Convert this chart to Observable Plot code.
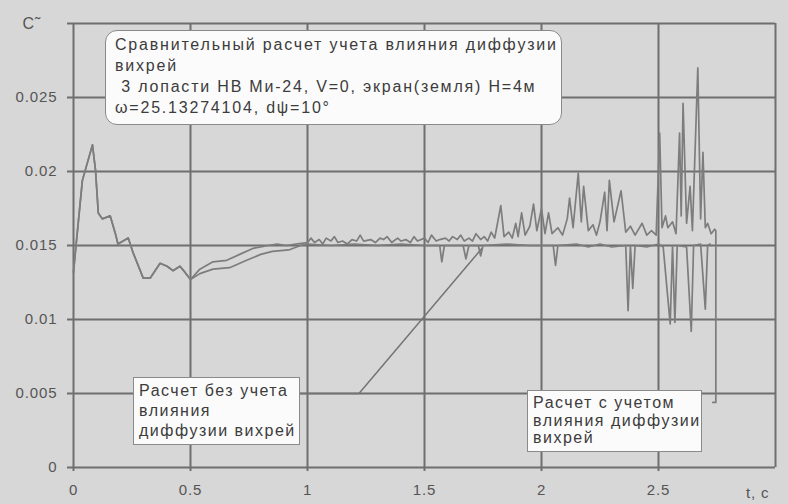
<!DOCTYPE html>
<html><head><meta charset="utf-8">
<script src="https://cdn.jsdelivr.net/npm/d3@7"></script>
<script src="https://cdn.jsdelivr.net/npm/@observablehq/plot@0.6"></script>
<style>
body{margin:0;background:#d7d7d7;}
#wrap{position:relative;width:788px;height:504px;background:#d7d7d7;overflow:hidden;font-family:"Liberation Sans",Arial,sans-serif;}
#chart svg text{letter-spacing:0.9px;}
.box{position:absolute;background:#fbfbfb;border:1px solid #8a8a8a;color:#3c3c3c;font-size:16px;letter-spacing:1.5px;white-space:pre;box-sizing:border-box;}
#titleBox{letter-spacing:1.8px;}
</style></head><body>
<div id="wrap"><div id="chart"></div></div>
<script>
// ---- data ----
const xTicks = [0, 0.5, 1, 1.5, 2, 2.5];
const yTicks = [0, 0.005, 0.01, 0.015, 0.02, 0.025, 0.03];
const yLabel = "C˜";
const xLabel = "t, c";

const titleLines = ["Сравнительный расчет учета влияния диффузии", "вихрей", " 3 лопасти НВ Ми-24, V=0, экран(земля) H=4м", "ω=25.13274104, dψ=10°"];
const noteWithout = ["Расчет без учета", "влияния", "диффузии вихрей"];
const noteWith = ["Расчет с учетом", "влияния диффузии", "вихрей"];

// shared start of both runs
const tStart = [0, 0.009, 0.038, 0.081, 0.094, 0.106, 0.123, 0.157, 0.179, 0.19, 0.234, 0.255, 0.298, 0.328, 0.37, 0.40, 0.425, 0.455, 0.476, 0.5];
const cStart = [0.0132, 0.0147, 0.0194, 0.0218, 0.0201, 0.0172, 0.0168, 0.0170, 0.0158, 0.0151, 0.0155, 0.0145, 0.0128, 0.0128, 0.0138, 0.0136, 0.0133, 0.0136, 0.0132, 0.0127];

// run with vortex diffusion (noisy)
const tWith = [0.54, 0.596, 0.655, 0.71, 0.766, 0.80, 0.83, 0.87, 0.91, 0.95, 1.0, 1.015, 1.03, 1.05, 1.065, 1.08, 1.10, 1.115, 1.13, 1.15, 1.17, 1.19, 1.21, 1.225, 1.24, 1.27, 1.29, 1.31, 1.325, 1.34, 1.36, 1.385, 1.40, 1.42, 1.44, 1.455, 1.47, 1.50, 1.515, 1.53, 1.55, 1.565, 1.59, 1.605, 1.62, 1.64, 1.655, 1.67, 1.69, 1.705, 1.72, 1.74, 1.755, 1.77, 1.785, 1.80, 1.826, 1.84, 1.86, 1.875, 1.89, 1.90, 1.915, 1.93, 1.95, 1.966, 1.98, 2.0, 2.015, 2.03, 2.045, 2.07, 2.09, 2.11, 2.12, 2.135, 2.157, 2.17, 2.18, 2.20, 2.22, 2.235, 2.25, 2.27, 2.28, 2.29, 2.31, 2.34, 2.36, 2.38, 2.40, 2.43, 2.45, 2.47, 2.49, 2.505, 2.515, 2.53, 2.54, 2.56, 2.575, 2.59, 2.597, 2.605, 2.62, 2.635, 2.645, 2.668, 2.68, 2.69, 2.70, 2.71, 2.725, 2.74, 2.745, 2.745, 2.732];
const cWith = [0.0134, 0.0139, 0.0140, 0.0144, 0.0148, 0.0149, 0.0150, 0.0151, 0.0150, 0.0151, 0.0152, 0.0155, 0.0152, 0.0154, 0.0151, 0.0155, 0.0153, 0.0156, 0.0152, 0.0153, 0.0151, 0.0154, 0.0153, 0.0157, 0.0153, 0.0154, 0.0152, 0.0155, 0.0154, 0.0156, 0.0152, 0.0155, 0.0153, 0.0154, 0.0152, 0.0156, 0.0153, 0.0155, 0.0152, 0.0157, 0.0153, 0.0154, 0.0155, 0.0153, 0.0156, 0.0154, 0.0157, 0.0153, 0.0155, 0.0153, 0.0158, 0.0154, 0.0156, 0.0153, 0.0159, 0.0155, 0.0177, 0.0156, 0.0159, 0.0155, 0.0165, 0.0156, 0.0172, 0.0157, 0.0163, 0.0178, 0.0160, 0.0175, 0.0158, 0.0172, 0.0158, 0.0162, 0.0157, 0.0168, 0.0182, 0.0162, 0.0199, 0.0166, 0.0190, 0.0160, 0.0164, 0.0157, 0.0166, 0.0186, 0.0160, 0.0194, 0.0166, 0.0187, 0.0159, 0.0163, 0.0157, 0.0165, 0.0157, 0.0160, 0.0157, 0.0226, 0.0162, 0.0170, 0.0162, 0.0166, 0.0158, 0.0226, 0.0170, 0.0246, 0.0165, 0.0190, 0.0160, 0.0270, 0.0168, 0.0213, 0.0162, 0.0165, 0.0158, 0.0161, 0.0160, 0.0044, 0.0044];

// run without vortex diffusion (smooth, with downward spikes)
const tWithout = [0.54, 0.596, 0.667, 0.74, 0.80, 0.85, 0.92, 0.97, 1.0, 1.1, 1.2, 1.3, 1.4, 1.5, 1.565, 1.574, 1.585, 1.665, 1.677, 1.69, 1.73, 1.74, 1.75, 1.85, 1.95, 2.05, 2.06, 2.07, 2.15, 2.2, 2.25, 2.3, 2.36, 2.37, 2.38, 2.39, 2.40, 2.45, 2.5, 2.52, 2.55, 2.56, 2.57, 2.58, 2.62, 2.64, 2.65, 2.68, 2.70, 2.71, 2.72];
const cWithout = [0.0131, 0.0134, 0.0135, 0.0140, 0.0144, 0.0146, 0.0147, 0.0150, 0.0151, 0.0150, 0.0151, 0.0150, 0.0151, 0.0150, 0.0150, 0.0139, 0.0150, 0.0150, 0.0141, 0.0150, 0.0150, 0.0143, 0.0150, 0.0151, 0.0150, 0.0150, 0.01365, 0.0150, 0.0151, 0.0149, 0.0151, 0.0149, 0.0150, 0.0106, 0.0150, 0.0121, 0.0150, 0.0149, 0.0151, 0.0149, 0.0097, 0.0150, 0.0098, 0.0150, 0.0149, 0.0092, 0.0150, 0.0151, 0.0107, 0.0150, 0.0151];

// leader from the "без учета" note
const tLeader = [0.966, 1.22, 1.745];
const cLeader = [0.005, 0.005, 0.0148];

// ---- build ----
const rows = (ts, cs) => ts.map((t, i) => ({t, c: cs[i]}));
const withRows = rows(tStart.concat(tWith), cStart.concat(cWith));
const withoutRows = rows(tStart.concat(tWithout), cStart.concat(cWithout));
const leaderRows = rows(tLeader, cLeader);

const grid = "#6f6f6f";
const lineColor = "#7d7d7d";
const yFmt = d => d === 0.03 ? "" : String(+d.toFixed(3));
const xFmt = d => String(d);

const chart = Plot.plot({
  width: 788, height: 504,
  marginLeft: 73, marginRight: 13, marginTop: 23, marginBottom: 37,
  style: {background: "transparent", fontFamily: "Liberation Sans, Arial, sans-serif", fontSize: "15px", color: "#555"},
  x: {domain: [0, 3]},
  y: {domain: [0, 0.03]},
  marks: [
    Plot.ruleY(yTicks, {stroke: grid, strokeWidth: 2}),
    Plot.ruleX(xTicks.concat([3]), {stroke: grid, strokeWidth: 2}),
    Plot.line(leaderRows, {x: "t", y: "c", stroke: "#747474", strokeWidth: 1.5}),
    Plot.line(withoutRows, {x: "t", y: "c", stroke: lineColor, strokeWidth: 1.7}),
    Plot.line(withRows, {x: "t", y: "c", stroke: lineColor, strokeWidth: 1.7}),
    Plot.axisY({ticks: yTicks, tickSize: 6, tickPadding: 10, stroke: grid, strokeWidth: 2, tickFormat: yFmt, label: null, fill: "#555"}),
    Plot.axisX({ticks: xTicks, tickSize: 4, tickPadding: 13, stroke: grid, strokeWidth: 2, tickFormat: xFmt, label: null, fill: "#555"}),
    Plot.text([yLabel], {text: d => d, frameAnchor: "top-left", dx: -51, dy: 0, textAnchor: "start", lineAnchor: "middle", fill: "#555", fontSize: 16}),
    Plot.text([xLabel], {text: d => d, frameAnchor: "bottom-right", dx: -6, dy: 26, textAnchor: "end", lineAnchor: "middle", fill: "#555", fontSize: 15})
  ]
});
document.getElementById("chart").appendChild(chart);

const wrap = document.getElementById("wrap");
function addBox(id, lines, left, top, w, h, lh, pad, padLeft, radius) {
  const b = document.createElement("div");
  b.className = "box";
  b.id = id;
  Object.assign(b.style, {left: left + "px", top: top + "px", width: w + "px", height: h + "px", lineHeight: lh + "px", padding: pad + "px 0 0 " + padLeft + "px", borderRadius: radius + "px"});
  b.textContent = lines.join("\n");
  wrap.appendChild(b);
}
addBox("titleBox", titleLines, 105, 30, 457, 95, 21, 3, 9, 12);
addBox("noteA", noteWithout, 133, 377, 167, 68, 20, 3, 5, 0);
addBox("noteB", noteWith, 527, 390, 175, 62, 17.5, 3, 5, 0);
</script>
</body></html>
